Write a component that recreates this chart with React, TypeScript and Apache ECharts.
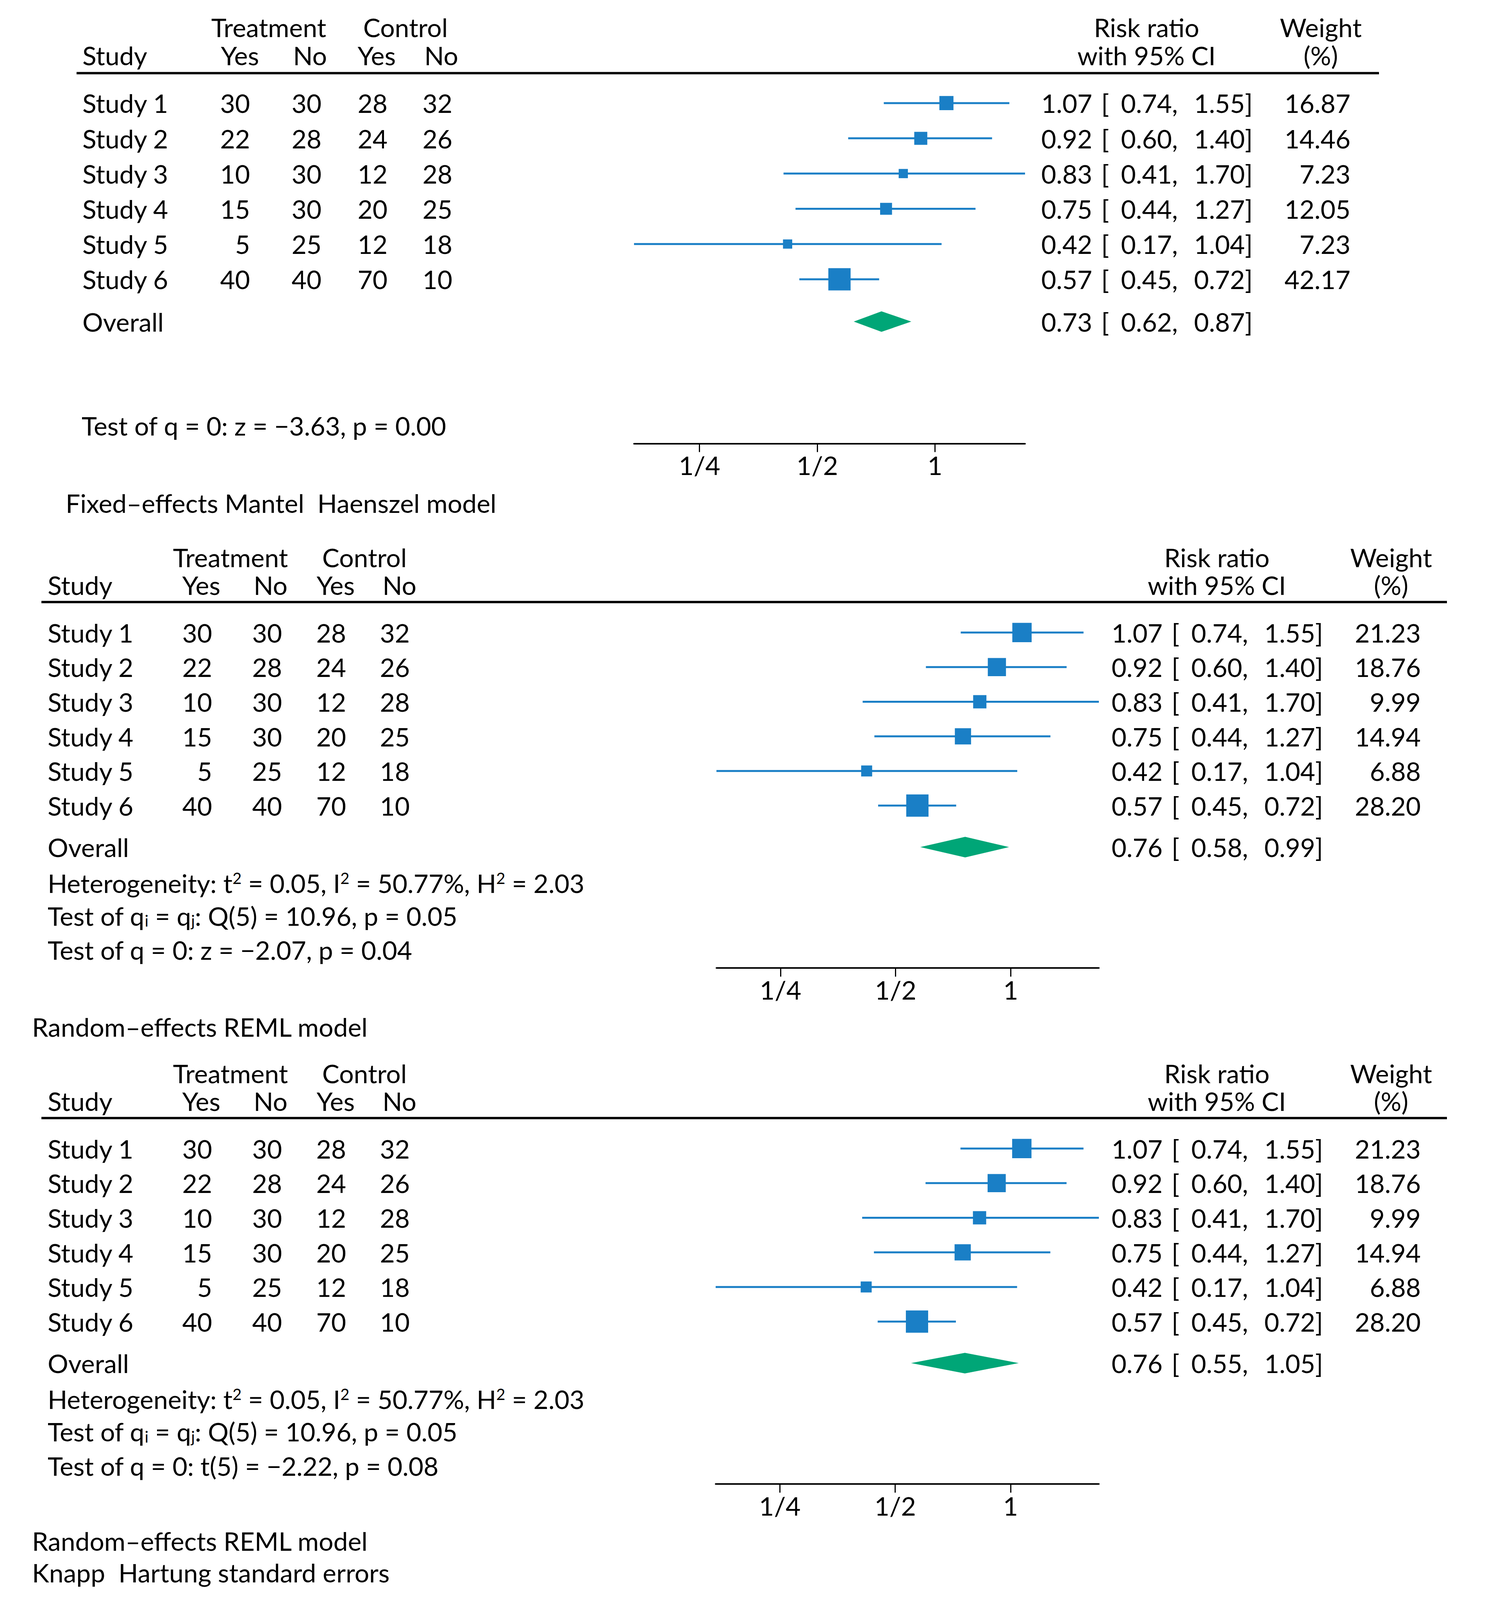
import React, { useEffect, useRef, useState } from "react";
import * as echarts from "echarts";

// ---------------- data ----------------
const studies = ["Study 1", "Study 2", "Study 3", "Study 4", "Study 5", "Study 6"];
const treatYes = [30, 22, 10, 15, 5, 40];
const treatNo = [30, 28, 30, 30, 25, 40];
const ctrlYes = [28, 24, 12, 20, 12, 70];
const ctrlNo = [32, 26, 28, 25, 18, 10];
const riskRatio = [1.07, 0.92, 0.83, 0.75, 0.42, 0.57];
const ciLow = [0.74, 0.6, 0.41, 0.44, 0.17, 0.45];
const ciHigh = [1.55, 1.4, 1.7, 1.27, 1.04, 0.72];
const weightsFixed = [16.87, 14.46, 7.23, 12.05, 7.23, 42.17];
const weightsRandom = [21.23, 18.76, 9.99, 14.94, 6.88, 28.2];
const overallFixed = [0.73, 0.62, 0.87];
const overallRandom = [0.76, 0.58, 0.99];
const overallRandomKH = [0.76, 0.55, 1.05];
const tickValues = [0.25, 0.5, 1];
const tickLabels = ["1/4", "1/2", "1"];
const groupHeaders = ["Treatment", "Control"];
const subHeaders = ["Yes", "No", "Yes", "No"];
const statsFixed = ["Test of q = 0: z = −3.63, p = 0.00"];
const statsRandom = [
  "Heterogeneity: t{sup|2} = 0.05, I{sup|2} = 50.77%, H{sup|2} = 2.03",
  "Test of q{sub|i} = q{sub|j}: Q(5) = 10.96, p = 0.05",
  "Test of q = 0: z = −2.07, p = 0.04",
];
const statsRandomKH = [
  "Heterogeneity: t{sup|2} = 0.05, I{sup|2} = 50.77%, H{sup|2} = 2.03",
  "Test of q{sub|i} = q{sub|j}: Q(5) = 10.96, p = 0.05",
  "Test of q = 0: t(5) = −2.22, p = 0.08",
];
const footFixed = ["Fixed–effects Mantel  Haenszel model"];
const footRandom = ["Random–effects REML model"];
const footRandomKH = ["Random–effects REML model", "Knapp  Hartung standard errors"];

// ---------------- style / layout (reference pixel units) ----------------
const REF_W = 3804;
const REF_H = 5603;
const FONT = "Lato";
const FS = 66;
const BLUE = "#1a7fc6";
const GREEN = "#00a677";
const MAX_SQ = 78;
const DIAMOND_HALF = 36;
const OVERALL_ROW = 6.2;

type Layout = {
  row0: number; step: number; axisY: number; axisLeft: number; axisRight: number;
  hdr1: number; hdr2: number; rule: number; ruleL: number; ruleR: number;
  colStudy: number; colNums: number[]; colHdr: number[]; colTreat: number; colCtrl: number;
  estRight: number; brLeft: number; loRight: number; hiRight: number; wRight: number; rrCenter: number; wCenter: number;
  statRows: number[]; statX: number; footRows: number[]; footX: number;
};

const L1: Layout = {
  row0: 361, step: 123.4, axisY: 1553, axisLeft: 1623, axisRight: 2624,
  hdr1: -2.16, hdr2: -1.36, rule: -0.85, ruleL: 196, ruleR: 3530,
  colStudy: 211, colNums: [640, 823, 992, 1158], colHdr: [663, 837, 1013, 1173], colTreat: 688, colCtrl: 1038,
  estRight: 2796, brLeft: 2819, loRight: 3015, hiRight: 3207, wRight: 3457, rrCenter: 2935, wCenter: 3381,
  statRows: [9.15], statX: 209, footRows: [11.35], footX: 168,
};
const L2: Layout = {
  row0: 2215, step: 121.2, axisY: 3390, axisLeft: 1834, axisRight: 2813,
  hdr1: -2.18, hdr2: -1.37, rule: -0.88, ruleL: 106, ruleR: 3704,
  colStudy: 122, colNums: [543, 722, 886, 1049], colHdr: [564, 736, 908, 1066], colTreat: 590, colCtrl: 933,
  estRight: 2976, brLeft: 2999, loRight: 3195, hiRight: 3387, wRight: 3637, rrCenter: 3115, wCenter: 3561,
  statRows: [7.24, 8.18, 9.17], statX: 122, footRows: [11.39], footX: 82,
};
const L3: Layout = { ...L2, row0: 4022, axisY: 5197, axisLeft: 1832, axisRight: 2813, footRows: [11.33, 12.25] };

const panels = [
  { L: L1, weights: weightsFixed, overall: overallFixed, stats: statsFixed, foot: footFixed },
  { L: L2, weights: weightsRandom, overall: overallRandom, stats: statsRandom, foot: footRandom },
  { L: L3, weights: weightsRandom, overall: overallRandomKH, stats: statsRandomKH, foot: footRandomKH },
];

type Cell = { kind: "text" | "rule"; x: number; x2?: number; row: number; text?: string; align?: string };

function buildCells(p: (typeof panels)[number]): Cell[] {
  const { L, weights, overall, stats, foot } = p;
  const cells: Cell[] = [];
  const t = (x: number, row: number, text: string, align: string) => cells.push({ kind: "text", x, row, text, align });
  t(L.colTreat, L.hdr1, groupHeaders[0], "center");
  t(L.colCtrl, L.hdr1, groupHeaders[1], "center");
  t(L.rrCenter, L.hdr1, "Risk ratio", "center");
  t(L.wCenter, L.hdr1, "Weight", "center");
  t(L.colStudy, L.hdr2, "Study", "left");
  subHeaders.forEach((h, k) => t(L.colHdr[k], L.hdr2, h, "right"));
  t(L.rrCenter, L.hdr2, "with 95% CI", "center");
  t(L.wCenter, L.hdr2, "(%)", "center");
  cells.push({ kind: "rule", x: L.ruleL, x2: L.ruleR, row: L.rule });
  const est = (row: number, e: number, lo: number, hi: number) => {
    t(L.estRight, row, e.toFixed(2), "right");
    t(L.brLeft, row, "[", "left");
    t(L.loRight, row, `${lo.toFixed(2)},`, "right");
    t(L.hiRight, row, `${hi.toFixed(2)}]`, "right");
  };
  studies.forEach((s, i) => {
    t(L.colStudy, i, s, "left");
    [treatYes, treatNo, ctrlYes, ctrlNo].forEach((arr, k) => t(L.colNums[k], i, String(arr[i]), "right"));
    est(i, riskRatio[i], ciLow[i], ciHigh[i]);
    t(L.wRight, i, weights[i].toFixed(2), "right");
  });
  t(L.colStudy, OVERALL_ROW, "Overall", "left");
  est(OVERALL_ROW, overall[0], overall[1], overall[2]);
  stats.forEach((s, k) => t(L.statX, L.statRows[k], s, "left"));
  foot.forEach((s, k) => t(L.footX, L.footRows[k], s, "left"));
  return cells;
}

const log2 = (v: number) => Math.log(v) / Math.LN2;
const xMin = log2(Math.min(...ciLow));
const xMax = log2(Math.max(...ciHigh));
const Y_MIN = -3;
const Y_MAX = 13;

function buildOption(sy: number) {
  const grid: any[] = [];
  const xAxis: any[] = [];
  const yAxis: any[] = [];
  const series: any[] = [];
  const RICH = {
    sup: { fontSize: 40, fontFamily: FONT, fill: "#000", verticalAlign: "top" },
    sub: { fontSize: 40, fontFamily: FONT, fill: "#000", verticalAlign: "bottom" },
  };

  panels.forEach((p, k) => {
    const L = p.L;
    const fIdx = k * 2;
    const tIdx = k * 2 + 1;
    const fTop = (L.row0 - 0.5 * L.step) * sy;
    grid.push({
      left: L.axisLeft, width: L.axisRight - L.axisLeft, top: fTop, height: L.axisY * sy - fTop,
      outerBoundsMode: "none", containLabel: false,
    });
    xAxis.push({
      gridIndex: fIdx, type: "value", min: xMin, max: xMax, position: "bottom",
      axisLine: { show: true, onZero: false, lineStyle: { color: "#000", width: 4 } },
      axisTick: { show: true, length: 22, lineStyle: { color: "#000", width: 3 }, customValues: tickValues.map(log2) },
      axisLabel: {
        show: true, customValues: tickValues.map(log2), margin: 22, color: "#000", fontSize: FS, fontFamily: FONT,
        formatter: (v: number) => {
          const i = tickValues.findIndex((tv) => Math.abs(log2(tv) - v) < 1e-6);
          return i >= 0 ? tickLabels[i] : "";
        },
      },
      splitLine: { show: false },
    });
    yAxis.push({
      gridIndex: fIdx, type: "value", min: -0.5, max: (L.axisY - L.row0) / L.step, inverse: true,
      show: false, axisLine: { onZero: false },
    });
    grid.push({
      left: 0, width: REF_W, top: (L.row0 + Y_MIN * L.step) * sy, height: (Y_MAX - Y_MIN) * L.step * sy,
      outerBoundsMode: "none", containLabel: false,
    });
    xAxis.push({ gridIndex: tIdx, type: "value", min: 0, max: REF_W, show: false });
    yAxis.push({ gridIndex: tIdx, type: "value", min: Y_MIN, max: Y_MAX, inverse: true, show: false });

    const maxW = Math.max(...p.weights);
    const sqMax = MAX_SQ * sy;
    series.push({
      type: "custom", xAxisIndex: fIdx, yAxisIndex: fIdx, silent: true, clip: false,
      data: riskRatio.map((v, i) => [log2(v), i, log2(ciLow[i]), log2(ciHigh[i]), p.weights[i]]),
      encode: { x: [0, 2, 3], y: 1 },
      renderItem: (_params: any, api: any) => {
        const c = api.coord([api.value(0), api.value(1)]);
        const lo = api.coord([api.value(2), api.value(1)]);
        const hi = api.coord([api.value(3), api.value(1)]);
        const s = sqMax * Math.sqrt(api.value(4) / maxW);
        return {
          type: "group",
          children: [
            { type: "line", shape: { x1: lo[0], y1: lo[1], x2: hi[0], y2: hi[1] }, style: { stroke: BLUE, lineWidth: 5 } },
            { type: "rect", shape: { x: c[0] - s / 2, y: c[1] - s / 2, width: s, height: s }, style: { fill: BLUE } },
          ],
        };
      },
    });
    series.push({
      type: "custom", xAxisIndex: fIdx, yAxisIndex: fIdx, silent: true, clip: false,
      data: [[log2(p.overall[0]), OVERALL_ROW, log2(p.overall[1]), log2(p.overall[2])]],
      encode: { x: [0, 2, 3], y: 1 },
      renderItem: (_params: any, api: any) => {
        const c = api.coord([api.value(0), api.value(1)]);
        const lo = api.coord([api.value(2), api.value(1)]);
        const hi = api.coord([api.value(3), api.value(1)]);
        const h = DIAMOND_HALF * sy;
        return {
          type: "polygon",
          shape: { points: [[lo[0], c[1]], [c[0], c[1] - h], [hi[0], c[1]], [c[0], c[1] + h]] },
          style: { fill: GREEN },
        };
      },
    });
    const cells = buildCells(p);
    series.push({
      type: "custom", xAxisIndex: tIdx, yAxisIndex: tIdx, silent: true, clip: false,
      data: cells.map((c, i) => [c.x, c.row, i]),
      encode: { x: 0, y: 1 },
      renderItem: (_params: any, api: any) => {
        const cell = cells[api.value(2)];
        const pt = api.coord([cell.x, cell.row]);
        if (cell.kind === "rule") {
          const pt2 = api.coord([cell.x2, cell.row]);
          return { type: "line", shape: { x1: pt[0], y1: pt[1], x2: pt2[0], y2: pt2[1] }, style: { stroke: "#000", lineWidth: 6 } };
        }
        return {
          type: "text", x: pt[0], y: pt[1],
          style: {
            text: cell.text, fill: "#000", fontSize: FS, fontFamily: FONT,
            align: cell.align, verticalAlign: "middle", textAlign: cell.align, textVerticalAlign: "middle",
            rich: RICH,
          },
        };
      },
    });
  });

  return {
    animation: false,
    backgroundColor: "#fff",
    textStyle: { fontFamily: FONT },
    grid, xAxis, yAxis, series,
  };
}

export default function App() {
  const ref = useRef<HTMLDivElement>(null);
  const [sy] = useState(() => Math.min(1, (typeof window !== "undefined" ? window.innerHeight : REF_H) / REF_H));
  useEffect(() => {
    document.body.style.margin = "0";
    document.body.style.overflow = "hidden";
    if (!ref.current) return;
    const chart = echarts.init(ref.current, undefined, { renderer: "svg" });
    chart.setOption(buildOption(sy));
    return () => chart.dispose();
  }, [sy]);
  return <div ref={ref} style={{ width: REF_W, height: Math.floor(REF_H * sy) }} />;
}
